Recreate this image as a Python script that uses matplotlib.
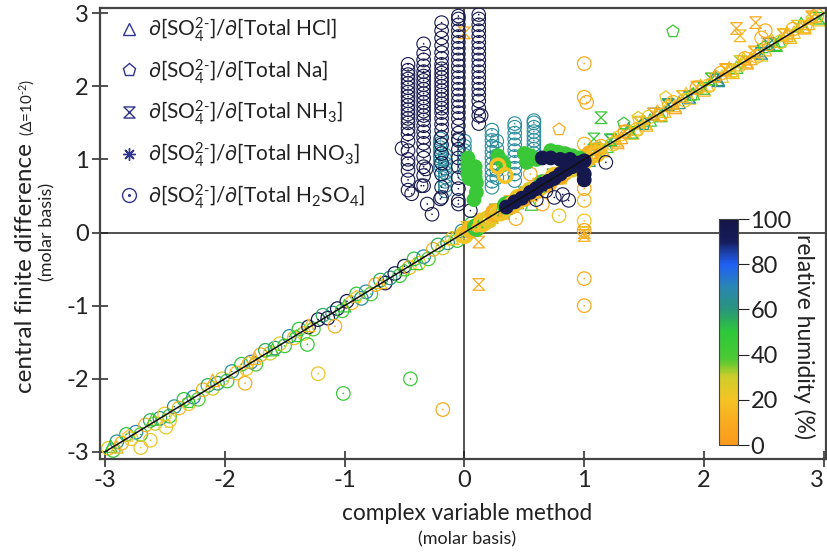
import numpy as np
import matplotlib
matplotlib.use("Agg")
import matplotlib.pyplot as plt
from matplotlib.colors import LinearSegmentedColormap, Normalize
from matplotlib.path import Path
from matplotlib.lines import Line2D

FONT = 'Lato'
plt.rcParams['font.family'] = [FONT, 'DejaVu Sans']
plt.rcParams['mathtext.fontset'] = 'custom'
plt.rcParams['mathtext.rm'] = FONT
plt.rcParams['mathtext.it'] = FONT
plt.rcParams['mathtext.bf'] = FONT + ':bold'
plt.rcParams['mathtext.default'] = 'regular'
plt.rcParams['axes.unicode_minus'] = False

# ---------- data ----------
axis_ticks = [-3, -2, -1, 0, 1, 2, 3]
rh_ticks = [0, 20, 40, 60, 80, 100]
ref_line = [-3, 3]

legend_labels = [
    r"∂[SO$_4^{2\text{-}}$]/∂[Total HCl]",
    r"∂[SO$_4^{2\text{-}}$]/∂[Total Na]",
    r"∂[SO$_4^{2\text{-}}$]/∂[Total NH$_3$]",
    r"∂[SO$_4^{2\text{-}}$]/∂[Total HNO$_3$]",
    r"∂[SO$_4^{2\text{-}}$]/∂[Total H$_2$SO$_4$]",
]

# H2SO4 circles along the 1:1 line (lower left half)
h2so4_diag_x = [-2.97, -2.93, -2.90, -2.86, -2.82, -2.78, -2.74, -2.70, -2.66, -2.62,
                -2.58, -2.54, -2.50, -2.46, -2.42, -2.38, -2.34, -2.30, -2.26, -2.22,
                -2.18, -2.14, -2.10, -2.06, -2.02, -1.98, -1.94, -1.90, -1.86, -1.82,
                -1.78, -1.74, -1.70, -1.66, -1.62, -1.58, -1.54, -1.50, -1.46, -1.42,
                -1.38, -1.34, -1.30, -1.26, -1.22, -1.18, -1.14, -1.10, -1.06, -1.02,
                -0.98, -0.94, -0.90, -0.86, -0.82, -0.78, -0.74, -0.70, -0.66, -0.62,
                -0.58, -0.54, -0.50, -0.46, -0.42, -0.38, -0.34, -0.30, -0.26, -0.22,
                -0.18, -0.14, -0.10, -0.06, -0.02, 0.02, 0.06, 0.10]
h2so4_diag_y = [-2.95, -2.98, -2.86, -2.88, -2.76, -2.82, -2.73, -2.76, -2.63, -2.57,
                -2.61, -2.54, -2.48, -2.51, -2.38, -2.40, -2.28, -2.34, -2.25, -2.28,
                -2.15, -2.09, -2.13, -2.06, -2.00, -2.03, -1.90, -1.92, -1.80, -1.86,
                -1.77, -1.80, -1.67, -1.61, -1.65, -1.58, -1.52, -1.55, -1.42, -1.44,
                -1.32, -1.38, -1.29, -1.32, -1.19, -1.13, -1.17, -1.10, -1.04, -1.07,
                -0.94, -0.96, -0.84, -0.90, -0.81, -0.84, -0.71, -0.65, -0.69, -0.62,
                -0.56, -0.59, -0.46, -0.48, -0.36, -0.42, -0.33, -0.36, -0.23, -0.17,
                -0.21, -0.14, -0.08, -0.11, 0.02, 0.00, 0.12, 0.06]
h2so4_diag_rh = [25, 45, 65, 15, 50, 22, 70, 40, 10, 55,
                 30, 60, 25, 45, 65, 15, 50, 22, 70, 40,
                 10, 55, 30, 60, 25, 45, 65, 15, 50, 22,
                 70, 40, 10, 55, 30, 60, 25, 45, 65, 15,
                 50, 22, 95, 40, 95, 55, 95, 60, 95, 45,
                 95, 15, 50, 65, 70, 40, 10, 55, 95, 60,
                 95, 45, 95, 15, 50, 22, 70, 40, 10, 55,
                 30, 60, 25, 45, 65, 15, 50, 22]

# H2SO4 circles along the 1:1 line (upper right half)
h2so4_up_x = [0.14, 0.24, 0.34, 0.44, 0.54, 0.64, 0.74, 0.84, 0.94, 1.04,
              1.14, 1.24, 1.34, 1.44, 1.54, 1.64, 1.74, 1.84, 1.94, 2.04,
              2.14, 2.24, 2.34, 2.44, 2.54, 2.64, 2.74, 2.84, 2.94]
h2so4_up_y = [0.17, 0.22, 0.38, 0.41, 0.58, 0.61, 0.78, 0.81, 0.98, 1.01,
              1.18, 1.21, 1.38, 1.41, 1.58, 1.61, 1.78, 1.81, 1.98, 2.01,
              2.18, 2.21, 2.38, 2.41, 2.58, 2.61, 2.78, 2.81, 2.97]
h2so4_up_rh = [20, 8, 25, 15, 22, 5, 18, 28, 10, 20,
               12, 25, 8, 18, 22, 10, 15, 25, 8, 18,
               12, 22, 10, 15, 8, 20, 12, 18, 10]

# thick yellow stretch of circles between 0 and 1.1
h2so4_band_x = [0.00, 0.05, 0.10, 0.15, 0.20, 0.25, 0.30, 0.35, 0.40, 0.45, 0.50, 0.55,
                0.60, 0.65, 0.70, 0.75, 0.80, 0.85, 0.90, 0.95, 1.00, 1.05, 1.10]
h2so4_band_y = [-0.03, 0.04, 0.07, 0.13, 0.18, 0.27, 0.28, 0.37, 0.38, 0.47, 0.48, 0.57,
                0.58, 0.67, 0.68, 0.77, 0.78, 0.87, 0.88, 0.97, 0.98, 1.07, 1.08]
h2so4_band_rh = [22, 15, 45, 20, 25, 12, 22, 48, 18, 22, 10, 25,
                 20, 45, 15, 22, 10, 20, 25, 15, 22, 10, 18]

# navy (high RH) columns of H2SO4 circles above the 1:1 line
navy_col_x = [-0.47, -0.34, -0.19, -0.05, 0.12]
navy_col_a = [0.58, 0.72, 0.85, 1.00, 1.12, 1.25, 1.35, 1.42, 1.50, 1.56, 1.62, 1.68,
              1.74, 1.80, 1.86, 1.92, 1.98, 2.04, 2.10, 2.16, 2.22, 2.30]
navy_col_b = [0.64, 0.78, 0.90, 1.02, 1.12, 1.22, 1.30, 1.38, 1.46, 1.54, 1.60, 1.66,
              1.72, 1.78, 1.84, 1.90, 1.96, 2.02, 2.08, 2.14, 2.20, 2.28, 2.36, 2.45, 2.58]
navy_col_c = [0.48, 0.62, 0.80, 0.95, 1.08, 1.20, 1.30, 1.40, 1.48, 1.56, 1.64, 1.70,
              1.76, 1.82, 1.88, 1.94, 2.00, 2.06, 2.12, 2.18, 2.24, 2.30, 2.38, 2.46,
              2.56, 2.66, 2.76, 2.87]
navy_col_d = [0.44, 0.60, 0.75, 0.90, 1.02, 1.14, 1.26, 1.36, 1.46, 1.56, 1.64, 1.72,
              1.80, 1.88, 1.96, 2.04, 2.12, 2.20, 2.28, 2.36, 2.44, 2.52, 2.60, 2.68,
              2.76, 2.84, 2.92, 2.96]
navy_col_e = [1.49, 1.60, 1.70, 1.80, 1.88, 1.96, 2.04, 2.12, 2.20, 2.28, 2.36, 2.44,
              2.52, 2.60, 2.68, 2.76, 2.84, 2.92, 2.98]
navy_col_rh = 97

navy_loose_x = [-0.44, -0.36, -0.31, -0.20, -0.05, -0.47, -0.32, -0.05, 0.14, -0.52,
                -0.27, 0.05, 0.68, 0.75, 0.82, 0.87, 0.60, 1.18]
navy_loose_y = [0.53, 0.64, 0.39, 0.46, 0.39, 0.94, 0.87, 1.28, 1.60, 1.15,
                0.25, 0.30, 0.57, 0.48, 0.52, 0.44, 0.45, 0.96]

# teal columns
teal_col_x = [-0.20, -0.16, 0.00, 0.23, 0.27, 0.42, 0.58]
teal_col_a = [0.85, 0.92, 0.98, 1.04, 1.10, 1.16, 1.22, 1.28]
teal_col_b = [0.57, 0.64, 0.70, 0.76, 0.82, 0.88, 0.94, 1.00, 1.06]
teal_col_c = [0.80, 0.87, 0.94, 1.00, 1.06, 1.12, 1.18, 1.25]
teal_col_d = [0.62, 0.70, 0.78, 0.86, 0.94, 1.02, 1.10, 1.18, 1.26, 1.33, 1.40]
teal_col_e = [0.75, 0.85, 0.95, 1.05, 1.15, 1.25]
teal_col_f = [0.71, 0.80, 0.88, 0.96, 1.04, 1.12, 1.20, 1.28, 1.36, 1.44, 1.49]
teal_col_g = [1.02, 1.08, 1.14, 1.20, 1.26, 1.32, 1.38, 1.44, 1.50, 1.53]
teal_col_rh = 66

# packed green / yellow / navy clusters (look solid)
green_blob_x = [0.03, 0.03, 0.03, 0.03, 0.04, 0.09, 0.09, 0.09, 0.10, 0.10, 0.08,
                0.28, 0.31, 0.33, 0.50, 0.55, 0.60, 0.52, 0.72, 0.78, 0.84, 0.90, 0.96]
green_blob_y = [1.02, 0.95, 0.88, 0.80, 0.74, 0.90, 0.82, 0.75, 0.68, 0.55, 0.45,
                1.05, 0.98, 0.93, 1.08, 1.05, 1.00, 0.96, 1.12, 1.10, 1.08, 1.05, 1.02]
green_blob_rh = 45
yellow_blob_x = [0.28, 0.34]
yellow_blob_y = [0.91, 0.78]
yellow_blob_rh = 20
navy_blob_x = [0.35, 0.42, 0.48, 0.55, 0.60, 0.65, 0.70, 0.75, 0.80, 0.85, 0.90, 0.95,
               1.00, 0.65, 0.72, 0.80, 0.88, 1.00, 1.00]
navy_blob_y = [0.35, 0.42, 0.47, 0.55, 0.60, 0.66, 0.70, 0.74, 0.80, 0.86, 0.90, 0.95,
               0.98, 1.02, 1.02, 1.00, 1.00, 0.80, 0.72]
navy_blob_rh = 97

# off-line circles
h2so4_off_x = [1.00, 1.00, 1.02, 1.00, 1.00, 1.00, 1.00, 1.00, 1.00, 1.00,
               -1.22, -1.01, -0.45, -0.18, -1.83, -1.31, -1.08, -2.70, -2.62, -2.49,
               -2.46, 2.51, 2.48, 0.43, 0.65, 0.79, 0.55]
h2so4_off_y = [2.31, 1.85, 1.78, 1.21, 0.60, 0.44, 0.16, 0.03, -0.63, -1.00,
               -1.93, -2.20, -2.00, -2.42, -2.06, -1.53, -1.28, -2.94, -2.84, -2.66,
               -2.57, 2.76, 2.66, 0.19, 0.39, 0.23, 0.80]
h2so4_off_rh = [10, 10, 10, 15, 10, 15, 20, 10, 10, 10,
                22, 45, 45, 10, 12, 45, 12, 22, 22, 22,
                22, 10, 15, 12, 10, 22, 8]

# HCl triangles
hcl_x = [0.05, 0.11, 0.17, 0.23, 0.29, 0.35, 0.41, 0.47, 0.53, 0.59,
         0.65, 0.71, 0.77, 0.83, 0.89, 0.95, 1.01, 1.07, 1.13, 1.19,
         1.25, 1.31, 1.37, 1.43, 1.49, 1.55, 1.61, 1.67, 1.73, 1.79,
         1.85, 1.91, 1.97, 2.03, 2.09, 2.15, 2.21, 2.27, 2.33, 2.39,
         2.45, 2.51, 2.57, 2.63, 2.69, 2.75, 2.81, 2.87, 2.93,
         -2.95, -2.90, -2.60, -2.10, -1.75, -1.60, -1.30, -1.00, -0.70, -0.40, -0.10, 0.56]
hcl_y = [0.08, 0.09, 0.20, 0.21, 0.33, 0.33, 0.45, 0.46, 0.57, 0.58,
         0.69, 0.70, 0.80, 0.82, 0.93, 0.94, 1.05, 1.06, 1.17, 1.18,
         1.29, 1.30, 1.42, 1.42, 1.53, 1.54, 1.66, 1.66, 1.77, 1.78,
         1.90, 1.90, 2.01, 2.02, 2.14, 2.14, 2.25, 2.26, 2.38, 2.38,
         2.49, 2.50, 2.62, 2.62, 2.73, 2.74, 2.86, 2.86, 2.95,
         -2.92, -2.93, -2.55, -2.02, -1.72, -1.60, -1.27, -1.00, -0.68, -0.42, -0.08, 0.39]
hcl_rh = [20, 8, 45, 15, 25, 10, 40, 18, 5, 22,
          50, 12, 28, 8, 45, 15, 65, 20, 10, 42,
          18, 5, 60, 22, 12, 48, 15, 25, 8, 65,
          20, 40, 10, 18, 68, 25, 12, 45, 20, 8,
          62, 15, 28, 45, 10, 22, 50, 15, 25,
          45, 15, 40, 12, 12, 45, 18, 50, 15, 40, 20, 45]
hcl_b_x = [0.08, 0.20, 0.32, 0.44, 0.56, 0.68, 0.80, 0.92, 1.04, 1.16, 1.28, 1.40, 1.52,
           1.64, 1.76, 1.88, 2.00, 2.12, 2.24, 2.36, 2.48, 2.60, 2.72, 2.84, 2.96]
hcl_b_y = [0.04, 0.17, 0.27, 0.41, 0.52, 0.64, 0.75, 0.88, 0.99, 1.12, 1.23, 1.36, 1.47,
           1.60, 1.71, 1.84, 1.95, 2.08, 2.19, 2.32, 2.43, 2.56, 2.67, 2.80, 2.91]
hcl_b_rh = [15, 22, 10, 65, 18, 8, 25, 12, 60, 20, 10, 28, 15,
            45, 8, 22, 12, 65, 18, 10, 25, 48, 15, 8, 20]

# Na pentagons
na_x = [0.10, 0.30, 0.50, 0.70, 0.90, 1.10, 1.30, 1.50, 1.70, 1.90, 2.10, 2.30, 2.50,
        2.70, 2.90, -2.80, -2.30, -1.80, -1.40, -0.90, -0.50,
        0.79, 1.74, 1.68, 1.45, 1.33]
na_y = [0.12, 0.28, 0.52, 0.68, 0.93, 1.08, 1.33, 1.48, 1.73, 1.88, 2.13, 2.28, 2.53,
        2.68, 2.92, -2.78, -2.32, -1.78, -1.42, -0.88, -0.52,
        1.41, 2.75, 1.85, 1.57, 1.49]
na_rh = [30, 12, 45, 18, 8, 40, 20, 60, 15, 45, 10, 25, 50,
         12, 30, 20, 45, 15, 50, 25, 40,
         10, 45, 22, 25, 45]

# NH3 hourglasses
nh3_x = [0.08, 0.14, 0.20, 0.26, 0.32, 0.38, 0.44, 0.50, 0.56, 0.62,
         0.68, 0.74, 0.80, 0.86, 0.92, 0.98, 1.04, 1.10, 1.16, 1.22,
         1.28, 1.34, 1.40, 1.46, 1.52, 1.58, 1.64, 1.70, 1.76, 1.82,
         1.88, 1.94, 2.00, 2.06, 2.12, 2.18, 2.24, 2.30, 2.36, 2.42,
         2.48, 2.54, 2.60, 2.66, 2.72, 2.78, 2.84, 2.90, 2.96,
         1.00, 1.00, 0.12, 0.12, 2.27, 2.43, 2.30, 0.00, 1.14, 1.08]
nh3_y = [0.04, 0.18, 0.17, 0.30, 0.29, 0.42, 0.41, 0.54, 0.53, 0.66,
         0.65, 0.78, 0.77, 0.90, 0.89, 1.02, 1.01, 1.14, 1.13, 1.26,
         1.25, 1.38, 1.37, 1.50, 1.49, 1.62, 1.61, 1.74, 1.73, 1.86,
         1.85, 1.98, 1.97, 2.10, 2.09, 2.22, 2.21, 2.34, 2.33, 2.46,
         2.45, 2.58, 2.57, 2.70, 2.69, 2.82, 2.81, 2.94, 2.93,
         0.00, -0.04, -0.71, -0.13, 2.79, 2.87, 2.69, 2.73, 1.57, 1.28]
nh3_rh = [12, 50, 20, 8, 42, 15, 25, 65, 10, 18,
          45, 5, 22, 60, 12, 28, 8, 45, 18, 62,
          10, 22, 48, 5, 15, 65, 20, 42, 12, 25,
          68, 8, 45, 18, 62, 12, 25, 42, 8, 20,
          65, 15, 45, 10, 28, 48, 12, 22, 45,
          10, 12, 10, 10, 10, 10, 15, 10, 45, 45]
nh3_b_x = [0.02, 0.14, 0.26, 0.38, 0.50, 0.62, 0.74, 0.86, 0.98, 1.10, 1.22, 1.34, 1.46,
           1.58, 1.70, 1.82, 1.94, 2.06, 2.18, 2.30, 2.42, 2.54, 2.66, 2.78, 2.90]
nh3_b_y = [0.07, 0.18, 0.31, 0.42, 0.55, 0.66, 0.79, 0.90, 1.03, 1.14, 1.27, 1.38, 1.51,
           1.62, 1.75, 1.86, 1.99, 2.10, 2.23, 2.34, 2.47, 2.58, 2.71, 2.82, 2.95]
nh3_b_rh = [20, 12, 45, 8, 25, 15, 65, 10, 22, 18, 42, 12, 25,
            8, 62, 15, 20, 45, 10, 28, 12, 68, 18, 22, 10]

# HNO3 asterisks
hno3_x = [-0.55, -0.52, -0.49, -0.46, -0.43, -0.40, -0.37, -0.34, -0.31, -0.28,
          -0.25, -0.22, -0.19, -0.16, -0.13, -0.10, -0.07, -0.04, -0.01, 0.02,
          0.05, 0.08, 0.11, 0.14, 0.17, 0.20,
          -3.00, -2.10, -1.85, -1.50, -0.17]
hno3_y = [0.00, 0.02, -0.02, 0.01, 0.00, -0.01, 0.02, 0.00, -0.02, 0.01,
          0.00, 0.02, -0.01, 0.00, 0.01, -0.02, 0.00, 0.02, -0.01, 0.00,
          0.01, -0.02, 0.00, 0.01, -0.01, 0.00,
          0.00, 0.00, 0.00, 0.00, 0.30]
hno3_rh = 97


def rh_cmap():
    nodes = [0.0, 0.1, 0.2, 0.3, 0.38, 0.5, 0.6, 0.7, 0.8, 0.86, 0.9, 1.0]
    cols = ['#fa9a1d', '#f9ab20', '#f5c424', '#cfcd2b', '#4cc934', '#2ec83a',
            '#2a957a', '#2a86b3', '#1f5ff5', '#1b3c9e', '#161c5c', '#141646']
    return LinearSegmentedColormap.from_list("rh", list(zip(nodes, cols)))


def main():
    cmap = rh_cmap()
    norm = Normalize(0, 100)

    def rings(ax, x, y, rh, marker, s=95, lw=0.9, dot=False, filled=False, z=2):
        x = np.asarray(x, float)
        y = np.asarray(y, float)
        c = cmap(norm(np.broadcast_to(np.asarray(rh, float), x.shape)))
        ax.scatter(x, y, s=s, marker=marker, facecolors=c if filled else 'none',
                   edgecolors=c, linewidths=lw, zorder=z)
        if dot:
            ax.scatter(x, y, s=1.5, marker='o', color=c, linewidths=0, zorder=z)

    hourglass = Path([(-1, 1), (1, 1), (-1, -1), (1, -1), (-1, 1)],
                     [Path.MOVETO, Path.LINETO, Path.LINETO, Path.LINETO, Path.CLOSEPOLY])
    asterisk = (8, 2, 0)
    ink = '#222222'

    fig = plt.figure(figsize=(8.27, 5.52), dpi=100)
    ax = fig.add_axes([100 / 827, 1 - 459 / 552, 726 / 827, 451 / 552])

    # reference lines
    ax.axhline(0, color=ink, lw=1.1, zorder=1)
    ax.axvline(0, color=ink, lw=1.1, zorder=1)

    # (A) band along the 1:1 line
    rings(ax, h2so4_diag_x, h2so4_diag_y, h2so4_diag_rh, 'o', dot=True)
    rings(ax, hcl_x, hcl_y, hcl_rh, '^', s=80)
    rings(ax, hcl_b_x, hcl_b_y, hcl_b_rh, '^', s=80)
    rings(ax, nh3_x, nh3_y, nh3_rh, hourglass, s=70)
    rings(ax, nh3_b_x, nh3_b_y, nh3_b_rh, hourglass, s=70)
    rings(ax, na_x, na_y, na_rh, 'p', s=85)
    rings(ax, h2so4_up_x, h2so4_up_y, h2so4_up_rh, 'o', dot=True)
    rings(ax, h2so4_band_x, h2so4_band_y, h2so4_band_rh, 'o', s=110, lw=3.0, dot=True)
    rings(ax, h2so4_off_x, h2so4_off_y, h2so4_off_rh, 'o', dot=True)

    # (B) columns above the line
    for cx, ys in zip(teal_col_x, [teal_col_a, teal_col_b, teal_col_c, teal_col_d,
                                   teal_col_e, teal_col_f, teal_col_g]):
        rings(ax, [cx] * len(ys), ys, teal_col_rh, 'o', lw=0.8, dot=True, z=3)
    for cx, ys in zip(navy_col_x, [navy_col_a, navy_col_b, navy_col_c, navy_col_d, navy_col_e]):
        rings(ax, [cx] * len(ys), ys, navy_col_rh, 'o', lw=0.8, dot=True, z=3)
    rings(ax, navy_loose_x, navy_loose_y, navy_col_rh, 'o', lw=0.8, dot=True, z=3)
    rings(ax, green_blob_x, green_blob_y, green_blob_rh, 'o', filled=True, z=3)
    rings(ax, yellow_blob_x, yellow_blob_y, yellow_blob_rh, 'o', lw=2.5, dot=True, z=3)
    rings(ax, navy_blob_x, navy_blob_y, navy_blob_rh, 'o', filled=True, z=4)

    # (C) HNO3 along y = 0
    rings(ax, hno3_x, hno3_y, hno3_rh, asterisk, s=80, lw=0.9, z=4)

    # 1:1 line
    ax.plot(ref_line, ref_line, color='#111111', lw=1.1, zorder=5)

    ax.set_xlim(-3.04, 3.017)
    ax.set_ylim(-3.096, 3.07)
    ax.set_xticks(axis_ticks)
    ax.set_yticks(axis_ticks)
    ax.tick_params(direction='inout', length=12, width=1.1, labelsize=17,
                   colors=ink, pad=2)
    ax.get_xticklabels()[-1].set_horizontalalignment('right')
    for sp in ax.spines.values():
        sp.set_color('#444444')
        sp.set_linewidth(1.6)

    # legend
    lc = '#2f3590'
    handles = [
        Line2D([], [], ls='none', marker='^', mfc='none', mec=lc, ms=9, mew=1.0),
        Line2D([], [], ls='none', marker='p', mfc='none', mec=lc, ms=9.5, mew=1.0),
        Line2D([], [], ls='none', marker=hourglass, mfc='none', mec=lc, ms=8, mew=1.0),
        Line2D([], [], ls='none', marker=asterisk, mfc='none', mec=lc, ms=9, mew=1.0),
        (Line2D([], [], ls='none', marker='o', mfc='none', mec=lc, ms=10, mew=1.0),
         Line2D([], [], ls='none', marker='o', color=lc, ms=1.2)),
    ]
    leg = ax.legend(handles, legend_labels, loc='upper left', bbox_to_anchor=(0.0, 1.025),
                    frameon=False, fontsize=15, handlelength=1.0, handletextpad=0.4,
                    labelspacing=0.62, borderaxespad=0.5)
    for t in leg.get_texts():
        t.set_color(ink)
    leg.set_zorder(6)

    # colorbar inside the plot
    cax = fig.add_axes([719 / 827, 1 - 445 / 552, 19 / 827, 226 / 552])
    sm = plt.cm.ScalarMappable(norm=norm, cmap=cmap)
    cb = fig.colorbar(sm, cax=cax, ticks=rh_ticks)
    cb.outline.set_edgecolor('#444444')
    cb.outline.set_linewidth(0.8)
    cax.tick_params(length=8, width=0.8, labelsize=17, colors=ink, pad=1)
    fig.text(804 / 827, 1 - 337 / 552, "relative humidity (%)", rotation=270,
             ha='center', va='center', fontsize=16.5, color=ink)

    # axis titles
    fig.canvas.draw()
    r = fig.canvas.get_renderer()
    fig.text(467 / 827, 1 - 514 / 552, "complex variable method", ha='center', va='center',
             fontsize=16.3, color=ink)
    fig.text(467 / 827, 1 - 539 / 552, "(molar basis)", ha='center', va='center',
             fontsize=13, color=ink)

    base_x = 32 / 827
    t1 = fig.text(base_x, 0, "central finite difference ", rotation=90, rotation_mode='anchor',
                  ha='left', va='baseline', fontsize=17.5, color=ink)
    t2 = fig.text(base_x, 0, r"(Δ=10$^{\text{-}2}$)", rotation=90, rotation_mode='anchor',
                  ha='left', va='baseline', fontsize=11, color=ink)
    h1 = t1.get_window_extent(r).height
    h2 = t2.get_window_extent(r).height
    y0 = (1 - 236 / 552) * 552 - (h1 + h2) / 2
    t1.set_y(y0 / 552)
    t2.set_y((y0 + h1) / 552)
    fig.text(47 / 827, 1 - 232 / 552, "(molar basis)", rotation=90, ha='center', va='center',
             fontsize=13, color=ink)

    fig.savefig("out.png", dpi=100)


if __name__ == "__main__":
    main()
